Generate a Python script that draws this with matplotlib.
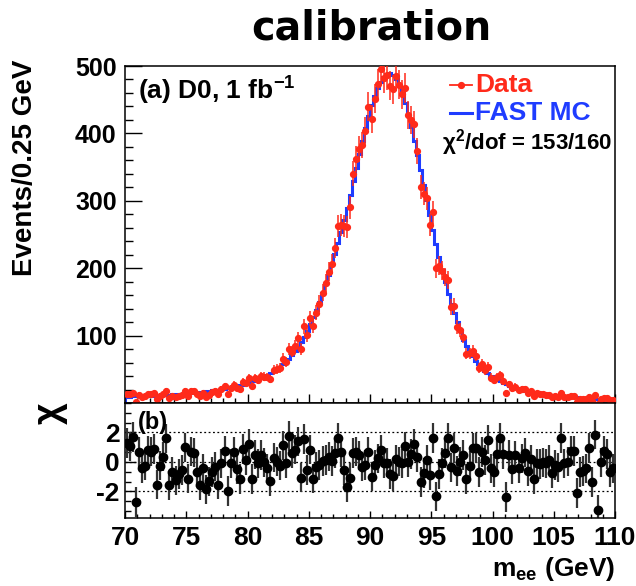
import numpy as np
import matplotlib
matplotlib.use('Agg')
from matplotlib import pyplot as plt
from matplotlib.ticker import MultipleLocator, FixedLocator

plt.rcParams['font.family'] = ['Liberation Sans', 'DejaVu Sans']
plt.rcParams['font.weight'] = 'bold'
plt.rcParams['axes.unicode_minus'] = False
plt.rcParams['mathtext.fontset'] = 'custom'
plt.rcParams['mathtext.rm'] = 'Liberation Sans:bold'
plt.rcParams['mathtext.bf'] = 'Liberation Sans:bold'
plt.rcParams['mathtext.it'] = 'Liberation Sans:bold:italic'
plt.rcParams['mathtext.default'] = 'bf'

# m_ee histogram, 160 bins of 0.25 GeV from 70 to 110 GeV
edges = np.arange(70, 110.001, 0.25)
centers = 0.5 * (edges[:-1] + edges[1:])

# FAST MC expectation per bin
mc = np.array([
    9.5, 9.6, 9.8, 10.0, 10.1, 10.3, 10.5, 10.7,          # 70-72
    11.0, 11.2, 11.5, 11.7, 12.0, 12.3, 12.6, 12.9,       # 72-74
    13.2, 13.5, 13.9, 14.3, 14.7, 15.1, 15.5, 15.9,       # 74-76
    16.4, 16.9, 17.4, 18.0, 18.6, 19.2, 19.9, 20.6,       # 76-78
    21.4, 22.2, 23.1, 24.0, 25.0, 26.1, 27.3, 28.6,       # 78-80
    30.5, 32.0, 33.6, 35.3, 37.2, 39.3, 41.6, 44.1,       # 80-82
    46.9, 50.0, 53.4, 57.2, 61.4, 66.0, 71.2, 77.0,       # 82-84
    83.4, 90.5, 98.3, 107, 117, 127, 138, 150,            # 84-86
    163, 176, 190, 205, 221, 237, 254, 272,               # 86-88
    290, 309, 329, 349, 369, 389, 408, 426,               # 88-90
    442, 456, 468, 477, 484, 488, 489, 487,               # 90-92
    481, 472, 460, 445, 428, 409, 389, 368,               # 92-94
    346, 324, 301, 279, 257, 236, 216, 197,               # 94-96
    179, 162, 147, 133, 120, 108, 94, 84,                 # 96-98
    76, 69, 63, 57.5, 52.5, 48, 44, 40.5,                 # 98-100
    37.8, 34.8, 32.1, 29.7, 27.6, 25.6, 23.9, 22.3,       # 100-102
    20.9, 19.6, 18.4, 17.4, 16.4, 15.5, 14.7, 13.9,       # 102-104
    13.2, 12.6, 12.0, 11.4, 10.9, 10.4, 10.0, 9.6,        # 104-106
    9.2, 8.8, 8.5, 8.2, 7.9, 7.6, 7.3, 7.1,               # 106-108
    6.8, 6.6, 6.4, 6.2, 6.0, 5.8, 5.6, 5.4,               # 108-110
])

# chi = (data - MC) / sigma per bin
chi = np.array([
    1.3, 1.05, 1.7, -2.7, 0.67, -0.44, -0.25, 0.78, 0.71, 0.87,
    -1.54, -0.25, 0.37, 1.6, -1.59, -0.67, -1.24, -0.83, -0.55, 0.99,
    -1.13, 0.71, 0.64, -0.67, -1.59, -0.44, -1.86, -1.31, -0.67, -0.32,
    -1.54, -0.09, 0.76, -1.98, -0.09, 0.67, -0.48, -1.17, 0.87, 0.14,
    1.24, -1.17, 0.5, -0.09, 0.48, -0.02, -0.44, -1.31, 0.3, 0.02,
    -0.25, 1.13, -0.09, 1.75, 0.6, 0.83, 1.4, -1.06, 1.56, -0.55,
    0.83, -1.13, -0.32, -0.2, 0.07, 0.14, 0.37, 0.07, 0.6, 1.63,
    0.67, -0.55, -1.7, -1.06, 0.6, 0.71, 0.44, -0.32, -0.2,
    0.67, -1.0, -0.2, 0.25, 0.83, -0.09, -0.05, -0.83, -0.97, 0.18,
    0.02, -0.09, 1.06, -0.02, 0.53, 1.24, 0.32, -1.36, -0.74, 0.14,
    -0.9, 1.63, -2.34, -0.83, -0.05, 0.6, 1.63, -0.37, 0.94, -0.62,
    0.02, 0.48, -1.17, -0.28, 0.94, 0.94, -0.69, 0.67, 0.14, 1.52,
    -0.44, -0.67, 0.55, 1.63, 0.55, -2.39, 0.48, -0.48, 0.44, -0.44,
    0.25, 0.64, -0.62, 0.18, -1.17, -0.09, -0.14, -0.02, -0.09, 0.14,
    -0.74, -0.2, -0.37, 1.63, -0.09, 0.02, 0.76, 0.76, -2.09, -0.67,
    -0.62, -0.44, 0.94, -1.36, 1.86, -3.24, -0.02, 0.76, 0.55, -0.71,
    -0.44,
])

data = mc + chi * np.sqrt(mc)
data_err = np.sqrt(data)

red = '#ff2a1a'
blue = '#1f3cff'
W, H = 636, 586


def ax_x(px):
    # figure pixel -> axes fraction for the panels (left 125, width 490)
    return (px - 125) / 490


fig = plt.figure(figsize=(W / 100, H / 100), dpi=100)
ax = fig.add_axes([125 / W, 1 - 403 / H, 490 / W, 337 / H])
axr = fig.add_axes([125 / W, 1 - 518 / H, 490 / W, 115 / H], sharex=ax)

# --- panel (a)
ax.stairs(mc, edges, color=blue, linewidth=2.2, zorder=2)
ax.errorbar(centers, data, yerr=data_err, fmt='o', color=red, ms=4.2,
            elinewidth=1.1, capsize=0, zorder=3)
ax.set_xlim(70, 110)
ax.set_ylim(0, 500)
ax.yaxis.set_major_locator(FixedLocator([100, 200, 300, 400, 500]))
ax.yaxis.set_minor_locator(MultipleLocator(20))
ax.xaxis.set_major_locator(MultipleLocator(5))
ax.xaxis.set_minor_locator(MultipleLocator(1))
ax.tick_params(axis='y', which='major', direction='in', length=12, width=1,
               labelsize=18, pad=6)
ax.tick_params(axis='y', which='minor', direction='in', length=6, width=1)
ax.tick_params(axis='x', which='major', direction='in', length=6.5, width=1,
               labelbottom=False)
ax.tick_params(axis='x', which='minor', direction='in', length=3.6, width=1)
for s in ax.spines.values():
    s.set_linewidth(1.1)

ax.text(ax_x(138), 1 - 25 / 337, r'(a) D0, 1 fb$^{-1}$', transform=ax.transAxes,
        fontsize=19, fontweight='bold', ha='left', va='center')

# legend drawn by hand to keep the ROOT look
ax.plot([ax_x(450), ax_x(472)], [1 - 19 / 337] * 2, color=red, lw=1.3,
        transform=ax.transAxes)
ax.plot([ax_x(461)], [1 - 19 / 337], 'o', color=red, ms=4.2,
        transform=ax.transAxes)
ax.text(ax_x(475), 1 - 19 / 337, 'Data', color=red, fontsize=19,
        fontweight='bold', ha='left', va='center', transform=ax.transAxes)
ax.plot([ax_x(450), ax_x(472)], [1 - 47 / 337] * 2, color=blue, lw=2.2,
        transform=ax.transAxes)
ax.text(ax_x(475), 1 - 47 / 337, 'FAST MC', color=blue, fontsize=19,
        fontweight='bold', ha='left', va='center', transform=ax.transAxes)
ax.text(ax_x(612), 1 - 77 / 337, r'$\chi^{2}$/dof = 153/160',
        color='black', fontsize=16, fontweight='bold', ha='right',
        va='center', transform=ax.transAxes)

# --- panel (b)
axr.errorbar(centers, chi, yerr=np.ones_like(chi), fmt='o', color='black',
             ecolor='#333333', ms=6, elinewidth=1.6, capsize=0)
for yv in (-2, 0, 2):
    axr.axhline(yv, color='black', lw=0.9, ls=(0, (1.5, 2)), zorder=0)
axr.set_ylim(-3.8, 4.0)
axr.yaxis.set_major_locator(FixedLocator([-2, 0, 2]))
axr.yaxis.set_minor_locator(FixedLocator(np.arange(-6, 7) * 2 / 3))
axr.tick_params(axis='y', which='major', direction='in', length=8, width=1,
                labelsize=19, pad=4)
axr.tick_params(axis='y', which='minor', direction='in', length=4, width=1)
axr.tick_params(axis='x', which='major', direction='in', length=5, width=1,
                labelsize=19, pad=6)
axr.tick_params(axis='x', which='minor', direction='in', length=3, width=1)
for s in axr.spines.values():
    s.set_linewidth(1.1)
axr.set_xticks([70, 75, 80, 85, 90, 95, 100, 105, 110])
axr.text(ax_x(138), 1 - 19 / 115, '(b)', transform=axr.transAxes,
         fontsize=17, fontweight='bold', ha='left', va='center')

# axis titles
fig.text(25 / W, 1 - 60 / H, 'Events/0.25 GeV', rotation=90, fontsize=20,
         fontweight='bold', ha='center', va='top')
fig.text(52 / W, 1 - 413 / H, r'$\chi$', rotation=90, fontsize=27,
         ha='center', va='center')
fig.text(615 / W, 1 - 569 / H, r'm$_{ee}$ (GeV)', fontsize=19,
         fontweight='bold', ha='right', va='center')
fig.text(371 / W, 1 - 28 / H, 'calibration', fontsize=28.5, fontweight='bold',
         family='DejaVu Sans', ha='center', va='center')

fig.savefig('out.png', dpi=100)
